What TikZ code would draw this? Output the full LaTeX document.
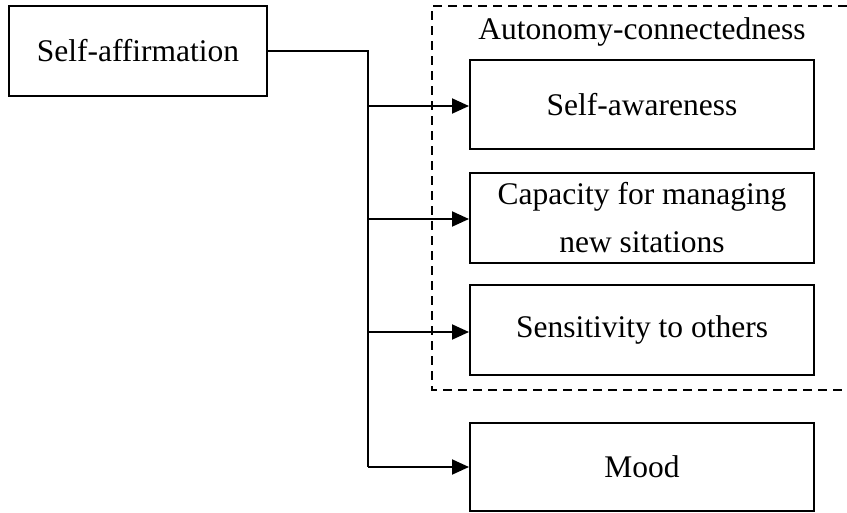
\documentclass[tikz,border=0pt]{standalone}
\usepackage{fontspec}
\setmainfont{Liberation Serif}
\usetikzlibrary{arrows.meta}
\tikzset{
  box/.style={draw, line width=2pt, inner sep=0pt, align=center, font=\fontsize{31.5}{48}\selectfont},
  wide/.style={box, minimum width=344pt, minimum height=89pt},
  conn/.style={line width=2pt},
  arr/.style={conn, -{Triangle[length=17pt,width=15pt]}},
  group/.style={line width=1.6pt, dash pattern=on 9pt off 6pt},
  lbl/.style={inner sep=0pt, font=\fontsize{31.5}{38}\selectfont}
}
\begin{document}
\begin{tikzpicture}[x=1pt,y=-1pt]
\useasboundingbox (0,0) rectangle (847,512);
\draw[group] (847,6) -- (432,6) -- (432,390) -- (847,390);
\node[lbl] (grp) at (642,32) {Autonomy-connectedness};
\node[box, minimum width=258pt, minimum height=90pt] (aff) at (138,51) {Self-affirmation};
\node[wide] (aw) at (642,104.5) {Self-awareness};
\node[wide, minimum height=90pt] (cap) at (642,218) {Capacity for managing\\new sitations};
\node[wide, minimum height=90pt] (sens) at (642,330) {Sensitivity to others};
\node[wide, minimum height=88pt] (mood) at (642,467) {Mood};
\coordinate (t1) at (368,106);
\coordinate (t2) at (368,219);
\coordinate (t3) at (368,332);
\coordinate (t4) at (368,467);
\draw[conn] (aff.east) -| (t4);
\draw[arr] (t1) -- (t1 -| aw.west);
\draw[arr] (t2) -- (t2 -| cap.west);
\draw[arr] (t3) -- (t3 -| sens.west);
\draw[arr] (t4) -- (mood.west);
\end{tikzpicture}
\end{document}
